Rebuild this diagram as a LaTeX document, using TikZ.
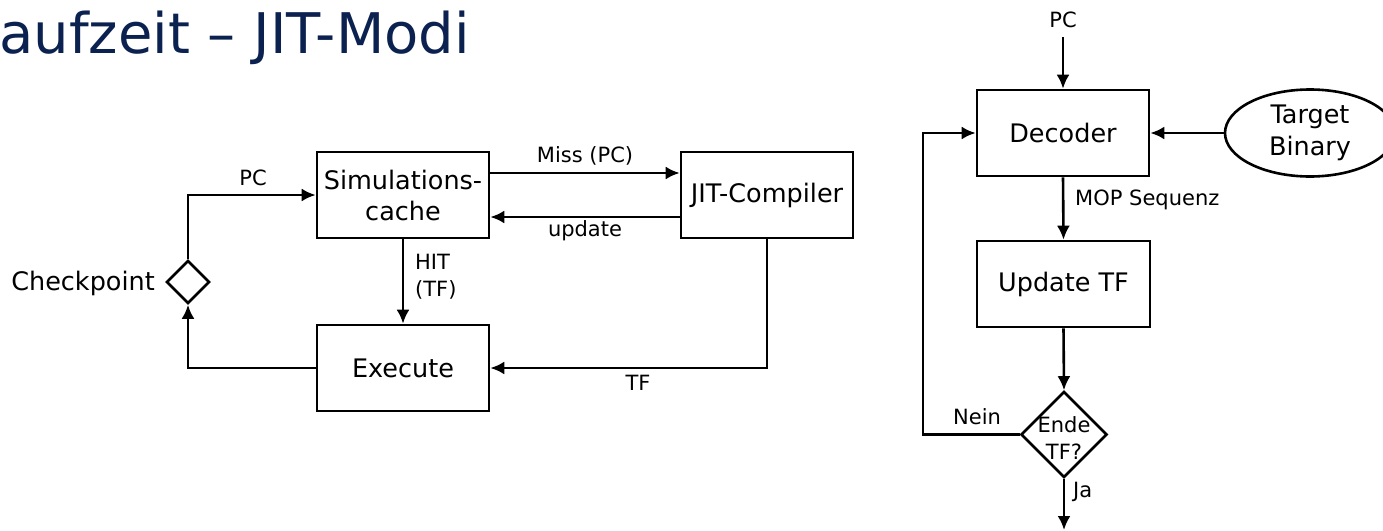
\documentclass[tikz,border=0pt]{standalone}
\usepackage{fontspec}
\setmainfont{DejaVu Sans}
\usetikzlibrary{arrows.meta,shapes.geometric}
\definecolor{titleblue}{RGB}{11,33,80}
\tikzset{
  box/.style={draw, line width=2.6pt, minimum width=172pt, minimum height=86pt, inner sep=0pt, align=center, font=\fontsize{25.5}{31}\selectfont},
  dia/.style={draw, line width=2.6pt, diamond, inner sep=0pt, aspect=1},
  ell/.style={draw, line width=2.6pt, ellipse, minimum width=170pt, minimum height=87pt, inner sep=0pt, align=center, font=\fontsize{25.5}{32}\selectfont},
  arr/.style={line width=2.6pt, -{Latex[length=14pt,width=13pt]}},
  lbl/.style={inner sep=0pt, align=left, font=\fontsize{21}{27}\selectfont},
  big/.style={inner sep=0pt, font=\fontsize{25.5}{31}\selectfont}
}
\begin{document}
\begin{tikzpicture}[x=1pt,y=-1pt]
\useasboundingbox (0,0) rectangle (1383,530);
\clip (0,0) rectangle (1383,530);
% title
\node[inner sep=0pt, anchor=base east, text=titleblue, font=\fontsize{56}{62}\selectfont] (title) at (470,53) {aufzeit – JIT-Modi};
% left diagram
\node[box] (sim) at (403,195) {Simulations-\\cache};
\node[box] (exec) at (403,368) {Execute};
\node[box] (jit) at (767,195) {JIT-Compiler};
\node[dia, minimum width=43pt, minimum height=43pt] (chk) at (188,282) {};
\node[big, anchor=east] (chklbl) at (155,283) {Checkpoint};

\draw[arr] (chk.north) |- (sim.west);
\node[lbl] (pclbl) at (253,178) {PC};
\draw[arr] ([yshift=22pt]sim.east) -- ([yshift=22pt]jit.west);
\node[lbl] (misslbl) at (585,156) {Miss (PC)};
\draw[arr] ([yshift=-22pt]jit.west) -- ([yshift=-22pt]sim.east);
\node[lbl] (updlbl) at (585,231) {update};
\draw[arr] (sim.south) -- (exec.north);
\node[lbl, anchor=west] (hitlbl) at (415,277) {HIT\\(TF)};
\draw[arr] (jit.south) |- (exec.east);
\node[lbl] (tflbl) at (638,383) {TF};
\draw[arr] (exec.west) -| (chk.south);

% right diagram
\coordinate (pcin) at (1063,37);
\node[lbl] (pctop) at (1063,20) {PC};
\node[box] (dec) at (1063,133) {Decoder};
\node[ell] (tb) at (1310,133) {Target\\Binary};
\node[box, minimum width=173pt] (upd) at (1063.5,284) {Update TF};
\node[dia, minimum width=86pt, minimum height=86pt] (ende) at (1064,434.5) {};
\node[lbl, align=center] (endetxt) at (1064,438) {Ende\\TF?};
\coordinate (fb) at (923,434.5);
\coordinate (jaend) at (1064,530);

\draw[arr] (pcin) -- (dec.north);
\draw[arr] (tb.west) -- (dec.east);
\draw[arr] (dec.south) -- (upd.north);
\node[lbl, anchor=west] (moplbl) at (1075,200) {MOP Sequenz};
\draw[arr] (upd.south) -- (ende.north);
\draw[arr] (ende.west) -- (fb) |- (dec.west);
\node[lbl] (neinlbl) at (977,417) {Nein};
\draw[arr] (ende.south) -- (jaend);
\node[lbl, anchor=west] (jalbl) at (1073,492) {Ja};
\end{tikzpicture}
\end{document}
